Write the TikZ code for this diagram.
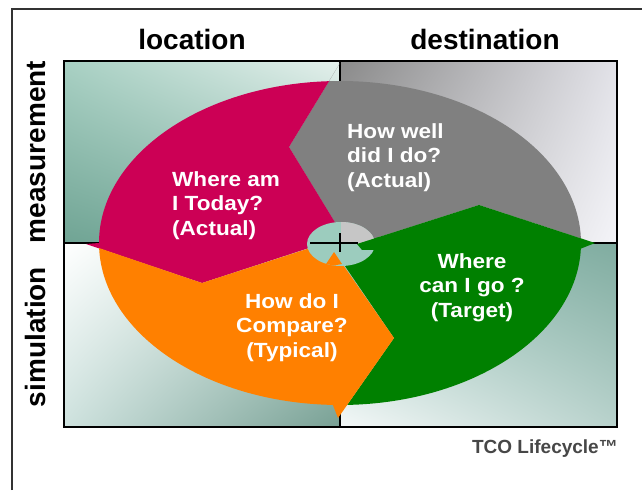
\documentclass[tikz,border=0pt]{standalone}
\usepackage{fontspec}
\setmainfont{Liberation Sans}
\newfontfamily\sectorfont{Liberation Sans}[FakeStretch=1.1]
\usetikzlibrary{shadings}
\definecolor{pinkred}{HTML}{CC0055}
\definecolor{midgray}{HTML}{808080}
\definecolor{leafgreen}{HTML}{008000}
\definecolor{tangerine}{HTML}{FF8000}
\definecolor{hubteal}{HTML}{9CCCBE}
\definecolor{hubgray}{HTML}{C6C6C6}
\definecolor{framegray}{HTML}{333333}
\tikzset{
  axislabel/.style={font=\bfseries\fontsize{28}{30}\selectfont, text=black, inner sep=0pt},
  sectortext/.style={font=\sectorfont\bfseries\fontsize{20.5}{24.5}\selectfont, text=white, inner sep=0pt},
  ellarc/.style={x radius=241, y radius=162},
}

\begin{document}
\begin{tikzpicture}[x=1pt,y=1pt]
\useasboundingbox (0,0) rectangle (642,490);
\fill[white] (0,0) rectangle (642,490);
\draw[framegray, line width=2pt] (12,0) -- (12,481) -- (642,481);

% quadrant backgrounds
\shade[upper left={rgb,255:red,168;green,208;blue,195}, upper right={rgb,255:red,228;green,240;blue,236},
       lower left={rgb,255:red,112;green,164;blue,148}, lower right={rgb,255:red,132;green,182;blue,167}]
  (64,247) rectangle (340,429);
\shade[upper left={rgb,255:red,138;green,138;blue,138}, upper right={rgb,255:red,226;green,226;blue,232},
       lower left={rgb,255:red,180;green,180;blue,182}, lower right={rgb,255:red,244;green,244;blue,248}]
  (340,247) rectangle (617,429);
\shade[upper left={rgb,255:red,255;green,255;blue,255}, upper right={rgb,255:red,196;green,222;blue,214},
       lower left={rgb,255:red,206;green,226;blue,222}, lower right={rgb,255:red,120;green,160;blue,148}]
  (64,63) rectangle (340,247);
\shade[upper left={rgb,255:red,150;green,196;blue,184}, upper right={rgb,255:red,128;green,172;blue,160},
       lower left={rgb,255:red,244;green,248;blue,248}, lower right={rgb,255:red,184;green,210;blue,204}]
  (340,63) rectangle (617,247);
\draw[line width=2pt] (64,247) -- (617,247);
\draw[line width=2pt] (340,63) -- (340,429);
\draw[line width=2.5pt] (64,63) rectangle (617,429);

\coordinate (cen) at (340,247);
\coordinate (hub) at (341,246);

% the four arrows
\fill[midgray] ([shift={(1.6:241 and 162)}]cen) arc[start angle=1.6, end angle=92.6, ellarc]
  -- (340,427) -- (289,343) -- (336,266) -- (357,246) -- (479,285) -- cycle;
\fill[pinkred] ([shift={(92.6:241 and 162)}]cen) arc[start angle=92.6, end angle=180, ellarc]
  -- (86,246) -- (202,207) -- (312,243) -- (336,266) -- (289,343) -- cycle;
\fill[leafgreen] (357,246) -- (479,285) -- (595,247) -- ([shift={(-2:241 and 162)}]cen)
  arc[start angle=-2, end angle=-88.3, ellarc] -- (394,152) -- (334,240) -- cycle;
\fill[tangerine] ([shift={(181.8:241 and 162)}]cen) arc[start angle=181.8, end angle=268.3, ellarc]
  -- (338,72) -- (394,152) -- (334,238) -- (316,238) -- (310,242) -- (202,207) -- cycle;

% hub
\fill[hubteal] (hub) ellipse[x radius=34, y radius=22];
\fill[hubgray] (hub) -- ++(0,22) arc[start angle=90, end angle=0, x radius=34, y radius=22] -- cycle;
\fill[leafgreen] (357,246) -- (378,252.7) -- (378,240) -- (362,240) -- cycle;
\fill[tangerine] (334,238) -- (342,226) -- (334,224.5) -- (326,226) -- cycle;
\draw[line width=2pt] (310,247) -- (358,247);
\draw[line width=2pt] (340,238) -- (340,257);

% labels
\node[axislabel, anchor=base] (loc) at (192,440) {location};
\node[axislabel, anchor=base] (dest) at (485,440) {destination};
\node[axislabel, anchor=base, rotate=90] (meas) at (45,338) {measurement};
\node[axislabel, anchor=base, rotate=90] (sim) at (45,153) {simulation};
\node[font=\bfseries\fontsize{19}{21}\selectfont, text=black!72, inner sep=0pt, anchor=base east] (tco) at (618,37) {TCO Lifecycle™};

\node[sectortext, align=left, anchor=west] (whereami) at (172,284.5) {Where am\\I Today?\\(Actual)};
\node[sectortext, align=left, anchor=west] (howwell) at (347,332.5) {How well\\did I do?\\(Actual)};
\node[sectortext, align=center] (wherego) at (472,202.5) {Where\\can I go ?\\(Target)};
\node[sectortext, align=center] (compare) at (292,162.5) {How do I\\Compare?\\(Typical)};
\end{tikzpicture}
\end{document}
